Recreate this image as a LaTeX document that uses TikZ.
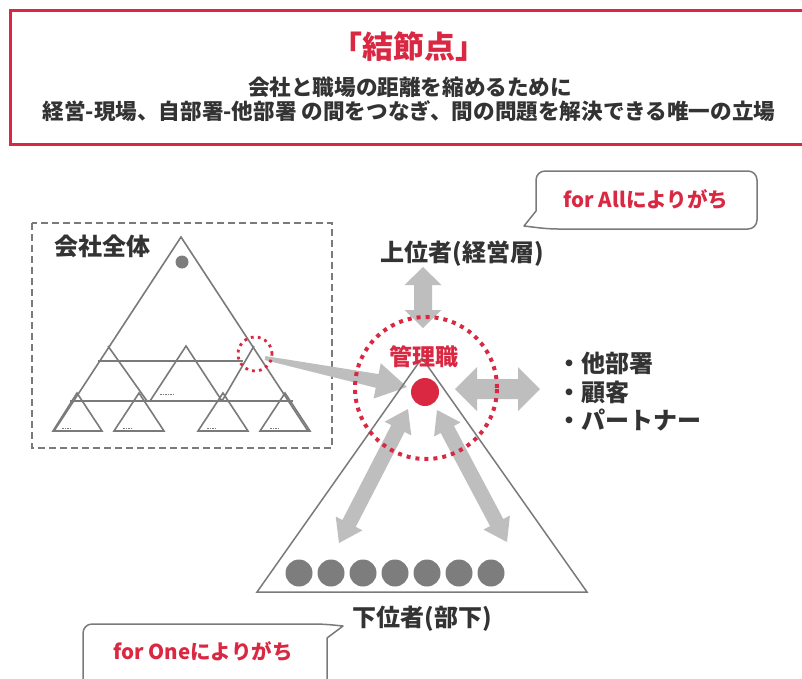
\documentclass[tikz,border=0pt]{standalone}
\usepackage{fontspec}
\setmainfont{Noto Sans CJK JP}
\usetikzlibrary{calc}
\definecolor{kred}{RGB}{218,40,66}
\definecolor{agray}{RGB}{190,190,190}
\definecolor{lgray}{RGB}{122,122,122}
\definecolor{dgray}{RGB}{125,125,125}
\definecolor{ink}{RGB}{51,51,51}
% fat double arrow: from, to, shaft half width, head half width, head length
\newcommand\fatdbl[5]{%
  \coordinate (fpa) at ($(#1)!#5!(#2)$);
  \coordinate (fpb) at ($(#2)!#5!(#1)$);
  \fill[agray] (#1) -- ($(fpa)!#4!90:(#2)$) -- ($(fpa)!#3!90:(#2)$)
    -- ($(fpb)!#3!-90:(#1)$) -- ($(fpb)!#4!-90:(#1)$) -- (#2)
    -- ($(fpb)!#4!90:(#1)$) -- ($(fpb)!#3!90:(#1)$)
    -- ($(fpa)!#3!-90:(#2)$) -- ($(fpa)!#4!-90:(#2)$) -- cycle;}
\begin{document}
\begin{tikzpicture}[x=1pt,y=-1pt,
  lab/.style={font=\bfseries\fontsize{24}{28}\selectfont, text=ink, inner sep=0pt},
  sublab/.style={font=\bfseries\fontsize{21.6}{25}\selectfont, text=ink, inner sep=0pt},
  redlab/.style={font=\bfseries\fontsize{20.5}{24}\selectfont, text=kred, inner sep=0pt},
  tri/.style={draw=lgray, line width=1.6pt, line join=miter},
  tinymark/.style={draw=lgray, line width=1pt, dash pattern=on 1.5pt off 1pt},
  callout/.style={draw=lgray, line width=1.5pt, fill=white, line join=round}]
\useasboundingbox (0,0) rectangle (802,678);
\fill[white] (0,0) rectangle (802,678);

% header
\draw[kred, line width=3pt] (10,10) rectangle (815,144);
\node[font=\bfseries\fontsize{31}{35}\selectfont, text=kred, inner sep=0pt] (title) at (409,47) {「結節点」};
\node[sublab] (sub1) at (410,87) {会社と職場の距離を縮めるために};
\node[sublab] (sub2) at (409,111) {経営-現場、自部署-他部署 の間をつなぎ、間の問題を解決できる唯一の立場};

% company-wide box
\draw[lgray, line width=1.5pt, dash pattern=on 7pt off 4pt] (32,223) rectangle (332,448);
\node[lab, anchor=west] (whole) at (54,246) {会社全体};
\draw[tri] (54,431) -- (181,237) -- (308,431);
\draw[tri] (108,346) -- (147,401);
\draw[tri] (150,401) -- (186,346) -- (222,401);
\draw[tri] (222,401) -- (254,346);
\draw[tri] (98,361) -- (243,361);
\draw[tri] (70,401) -- (293,401);
\draw[tri] (53,431) -- (77,393) -- (102,431) -- cycle;
\draw[tri] (114,431) -- (139,393) -- (164,431) -- cycle;
\draw[tri] (198,431) -- (223,393) -- (248,431) -- cycle;
\draw[tri] (260,431) -- (285,393) -- (310,431) -- cycle;
\fill[dgray] (182,262) circle (6.5pt);
\foreach \mx/\my in {67/428,128/428,212/428,275/428} \draw[tinymark] (\mx-5,\my) -- (\mx+5,\my);
\draw[tinymark] (160,394) -- (174,394);
\foreach \dx/\dy in {109/361,186/361,79/401,223/401} \fill[lgray] (\dx,\dy) circle (1pt);

% small dotted circle and tapered arrow
\coordinate (ts) at (265,358);
\coordinate (te) at (407,387);
\coordinate (th) at ($(ts)!0.79!(te)$);
\fill[agray] (te) -- ($(th)!18pt!90:(te)$) -- ($(th)!7pt!90:(te)$) -- ($(ts)!2pt!90:(te)$)
  -- ($(ts)!2pt!-90:(te)$) -- ($(th)!7pt!-90:(te)$) -- ($(th)!18pt!-90:(te)$) -- cycle;
\draw[kred, line width=2.8pt, dash pattern=on 2.8pt off 4.2pt] (255,354) circle (17pt);

% arrows around manager
\coordinate (ua) at (423,267); \coordinate (ub) at (423,328);
\coordinate (ha) at (455,389); \coordinate (hb) at (540,389);
\coordinate (la) at (408,409); \coordinate (lb) at (339,543);
\coordinate (ra) at (437,410); \coordinate (rb) at (507,542);
\fatdbl{ua}{ub}{9pt}{18.5pt}{18pt}
\fatdbl{ha}{hb}{10pt}{22pt}{22pt}
\fatdbl{la}{lb}{7.5pt}{15pt}{22pt}
\fatdbl{ra}{rb}{7.5pt}{15pt}{22pt}

% main triangle
\draw[tri, line width=1.5pt] (257,592) -- (422,358) -- (587,592) -- cycle;
\draw[kred, line width=4pt, dash pattern=on 4pt off 5pt] (426,388) circle (71pt);
\fill[kred] (425,392) circle (14pt);
\foreach \i in {0,...,6} \fill[dgray] (299+32*\i,573) circle (13.5pt);

% labels
\node[lab] (top) at (462,254) {上位者(経営層)};
\node[lab, text=kred, font=\bfseries\fontsize{23}{27}\selectfont] (mgr) at (424,357) {管理職};
\node[lab, anchor=west] (b1) at (557,363) {・他部署};
\node[lab, anchor=west] (b2) at (557,392) {・顧客};
\node[lab, anchor=west] (b3) at (557,420) {・パートナー};
\node[lab] (bottom) at (422,619) {下位者(部下)};

% callouts
\draw[callout] (524,226) -- (536,211) [rounded corners=9pt] -- (536,171) -- (757,171) -- (757,229) -- (549,229) [sharp corners] -- cycle;
\node[redlab] (forall) at (646,199) {for Allによりがち};
\draw[callout] (343,626) -- (327,638) [rounded corners=9pt] -- (327,700) -- (83,700) -- (83,624) -- (323,624) [sharp corners] -- cycle;
\node[redlab] (forone) at (203,651) {for Oneによりがち};
\end{tikzpicture}
\end{document}
